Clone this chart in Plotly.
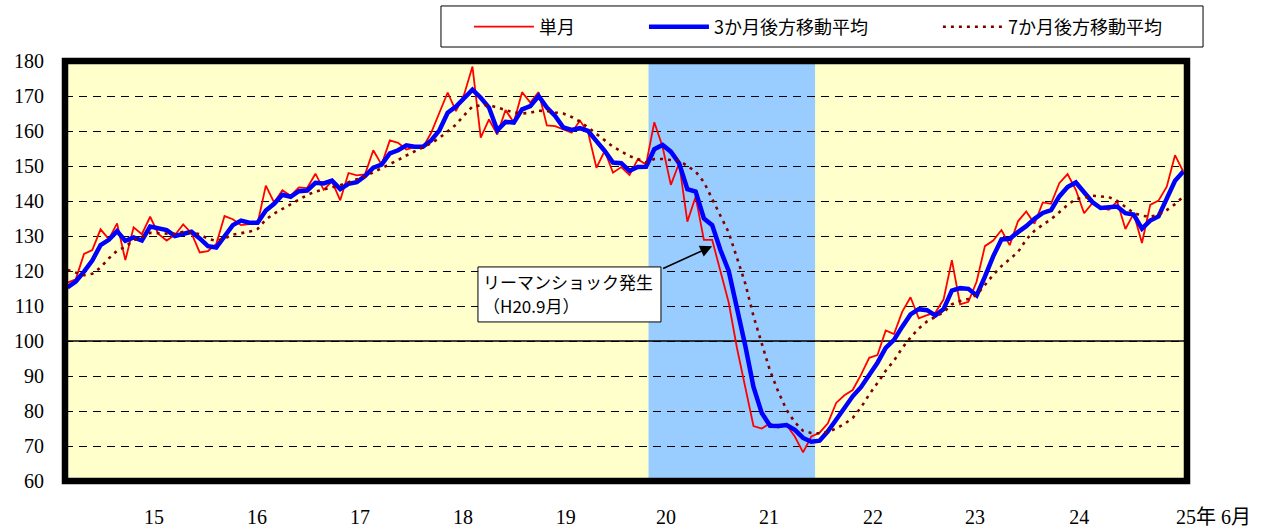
import plotly.graph_objects as go

# ---- data (month index 0 = H14.3 ... 135 = H25.6) ----
single_month = [
    116.7, 117.6, 124.9, 126.0, 131.9, 129.1, 133.6, 123.1, 132.5, 130.5,
    135.5, 130.6, 128.7, 130.3, 133.3, 130.8, 125.3, 125.7, 127.7, 135.7,
    134.8, 133.1, 133.4, 133.6, 144.4, 139.6, 143.1, 141.5, 143.9, 143.7,
    147.8, 143.2, 145.6, 140.2, 148.0, 147.3, 147.6, 154.5, 150.4, 157.3,
    156.6, 154.7, 155.4, 155.2, 159.5, 165.2, 171.0, 165.7, 170.5, 178.4,
    158.1, 163.3, 159.0, 166.0, 162.4, 171.1, 168.1, 171.1, 161.6, 161.4,
    160.5, 159.5, 163.0, 159.5, 149.5, 154.3, 148.1, 149.7, 147.4, 151.9,
    150.4, 162.5, 155.5, 144.6, 150.8, 134.1, 141.2, 128.9, 128.9, 120.0,
    111.0, 98.0, 87.0, 75.7, 75.0, 76.5, 75.3, 76.0, 72.7, 68.2,
    72.7, 73.8, 76.5, 82.3, 84.5, 86.0, 90.3, 95.2, 96.0, 103.0,
    102.0, 108.4, 112.5, 106.5, 107.4, 108.1, 111.9, 123.1, 110.5, 111.2,
    117.0, 127.1, 128.7, 131.7, 127.4, 134.2, 137.0, 133.5, 139.6, 139.2,
    145.1, 147.7, 143.2, 136.5, 139.4, 138.0, 137.5, 139.9, 132.0, 136.4,
    128.0, 138.9, 140.1, 144.1, 153.1, 148.4,
]
ma3 = [
    115.3, 117.0, 119.8, 123.0, 127.4, 128.9, 131.4, 128.6, 129.6, 128.7,
    132.7, 132.2, 131.7, 130.0, 130.6, 131.2, 129.3, 127.1, 126.7, 129.8,
    133.1, 134.4, 133.8, 133.8, 137.3, 139.2, 141.8, 141.2, 142.8, 143.0,
    145.2, 145.0, 145.8, 143.4, 144.9, 145.4, 147.1, 149.5, 150.4, 153.6,
    154.5, 155.9, 155.5, 155.5, 157.3, 160.2, 165.2, 167.0, 169.3, 171.8,
    169.5, 166.7, 160.2, 162.6, 162.4, 166.2, 167.1, 170.0, 166.7, 164.3,
    161.0, 160.3, 160.8, 160.0, 157.1, 154.3, 151.0, 150.8, 148.6, 149.7,
    149.8, 154.8, 156.0, 154.1, 150.8, 143.4, 142.7, 135.0, 133.1, 126.0,
    120.0, 109.7, 98.7, 86.9, 79.4, 75.8, 75.7, 76.0, 74.6, 72.3,
    71.2, 71.5, 74.2, 77.5, 80.9, 84.2, 86.8, 90.3, 93.8, 98.0,
    100.3, 104.1, 107.6, 109.1, 108.8, 107.3, 109.1, 114.4, 115.1, 114.9,
    113.0, 118.4, 124.2, 129.0, 129.2, 131.1, 132.8, 134.9, 136.6, 137.4,
    141.3, 144.0, 145.3, 142.5, 139.7, 138.0, 138.3, 138.4, 136.5, 136.1,
    132.1, 134.4, 135.6, 141.0, 145.8, 148.4,
]
ma7 = [
    120.3, 119.5, 118.8, 119.2, 121.0, 123.6, 125.8, 126.9, 128.8, 129.7,
    130.9, 130.8, 130.6, 130.6, 131.2, 131.0, 130.5, 129.2, 128.6, 129.3,
    130.4, 130.8, 131.2, 132.0, 134.7, 136.4, 137.7, 139.0, 140.2, 141.7,
    142.7, 143.3, 144.1, 144.5, 145.4, 146.2, 147.0, 148.2, 149.3, 150.5,
    151.7, 153.0, 154.2, 155.3, 156.5, 158.0, 160.0, 161.8, 164.5, 167.0,
    167.3, 167.4, 166.7, 165.9, 165.3, 165.0, 165.2, 165.8, 165.7, 165.3,
    165.0, 164.0, 162.7, 161.0, 159.2, 157.2, 155.5, 154.2, 152.8, 152.0,
    151.0, 152.0, 152.0, 151.7, 151.6, 150.0, 148.4, 145.4, 140.8, 135.8,
    131.0, 124.0, 116.5, 107.1, 99.2, 91.5, 85.5, 80.3, 76.8, 74.3,
    73.7, 73.6, 74.0, 75.0, 76.3, 78.0, 81.0, 84.7, 88.0, 91.5,
    94.4, 98.0, 101.0, 103.6, 105.6, 107.0, 108.2, 110.5, 111.4, 112.0,
    113.2, 116.0, 118.9, 121.4, 123.4, 125.4, 129.0, 131.5, 133.2, 134.8,
    136.8, 138.9, 140.6, 140.9, 141.5, 141.4, 141.1, 140.0, 138.2, 136.6,
    135.8, 135.5, 136.1, 137.4, 139.1, 141.2,
]
months = list(range(len(single_month)))

series_names = ["単月", "3か月後方移動平均", "7か月後方移動平均"]
year_labels = ["15", "16", "17", "18", "19", "20", "21", "22", "23", "24"]
year_label_pos = [10.47, 22.93, 35.39, 47.85, 60.30, 72.40, 84.87, 97.45, 109.80, 122.40]
last_label = "25年 6月"
y_ticks = list(range(60, 190, 10))
shade_start, shade_end = 70.3, 90.45
lehman_month = 78
note_line1 = "リーマンショック発生"
note_line2 = "（H20.9月）"

SERIF = "Liberation Serif, 'Noto Sans CJK JP', serif"
GOTHIC = "'Noto Sans CJK JP', sans-serif"

fig = go.Figure()
fig.add_trace(go.Scatter(x=months, y=single_month, mode="lines", name=series_names[0],
                         line=dict(color="#FF0000", width=1.8), legend="legend"))
fig.add_trace(go.Scatter(x=months, y=ma3, mode="lines", name=series_names[1],
                         line=dict(color="#0000FF", width=4.5), legend="legend2"))
fig.add_trace(go.Scatter(x=months, y=ma7, mode="lines", name=series_names[2],
                         line=dict(color="#800000", width=2.6, dash="3px,5px"), legend="legend3"))

# recession shading and 100 base line (above grid, below traces)
fig.add_shape(type="rect", xref="x", yref="paper", x0=shade_start, x1=shade_end, y0=0, y1=1,
              fillcolor="#99CCFF", line=dict(width=0), layer="between")
fig.add_shape(type="line", xref="paper", yref="y", x0=0, x1=1, y0=100, y1=100,
              line=dict(color="black", width=1.5), layer="between")
# thick plot frame
fig.add_shape(type="rect", xref="paper", yref="paper", x0=0, x1=1, y0=0, y1=1,
              line=dict(color="black", width=6.5), layer="above")
# legend frame
fig.add_shape(type="rect", xref="paper", yref="paper", x0=0.3351, x1=1.0143, y0=1.0333, y1=1.131,
              line=dict(color="black", width=1), fillcolor="white", layer="below")

# callout: box (pixel-sized, anchored at the arrow tip), arrow, two text lines
arrow_y = 127.1
fig.add_shape(type="rect", xref="x", yref="y", xsizemode="pixel", ysizemode="pixel",
              xanchor=lehman_month, yanchor=arrow_y, x0=-234.2, x1=-51.2, y0=-75.8, y1=-20.8,
              fillcolor="white", line=dict(color="black", width=1), layer="above")
fig.add_annotation(x=lehman_month, y=arrow_y, xref="x", yref="y", text="",
                   showarrow=True, ax=-50.5, ay=23, arrowhead=2, arrowsize=1.5,
                   arrowwidth=1.6, arrowcolor="black")
fig.add_annotation(x=lehman_month, y=arrow_y, xref="x", yref="y", text=note_line1,
                   showarrow=False, xanchor="left", yanchor="middle",
                   xshift=-231, yshift=-35,
                   font=dict(family=GOTHIC, size=17, color="black"))
fig.add_annotation(x=lehman_month, y=arrow_y, xref="x", yref="y", text=note_line2,
                   showarrow=False, xanchor="left", yanchor="middle",
                   xshift=-231, yshift=-59,
                   font=dict(family=GOTHIC, size=17, color="black"))
fig.add_annotation(x=1.0232, y=-0.086, xref="paper", yref="paper", text=last_label,
                   showarrow=False, xanchor="center", yanchor="middle",
                   font=dict(family=SERIF, size=20, color="black"))

legend_common = dict(orientation="h", yanchor="middle", y=1.081, xanchor="left",
                     bgcolor="rgba(0,0,0,0)", borderwidth=0, itemwidth=60,
                     font=dict(family=GOTHIC, size=18, color="black"))
fig.update_layout(
    width=1275, height=529,
    margin=dict(l=65, r=88, t=61, b=48, autoexpand=False),
    paper_bgcolor="white", plot_bgcolor="#FFFFCC",
    showlegend=True,
    legend=dict(x=0.3600, **legend_common),
    legend2=dict(x=0.5160, **legend_common),
    legend3=dict(x=0.7780, **legend_common),
    xaxis=dict(range=[-0.30, 135.45], showgrid=False, zeroline=False, showline=False,
               tickmode="array", tickvals=year_label_pos, ticktext=year_labels,
               ticks="", ticklabelstandoff=22,
               tickfont=dict(family=SERIF, size=20, color="black")),
    yaxis=dict(range=[60, 180], tickmode="array", tickvals=y_ticks, ticks="",
               showgrid=True, gridcolor="black", gridwidth=1, griddash="8px,6px",
               zeroline=False, showline=False, ticklabelstandoff=20,
               tickfont=dict(family=SERIF, size=20, color="black")),
)

fig.write_html("out.html", config={"displayModeBar": False},
               post_script="document.body.style.margin='0';")
